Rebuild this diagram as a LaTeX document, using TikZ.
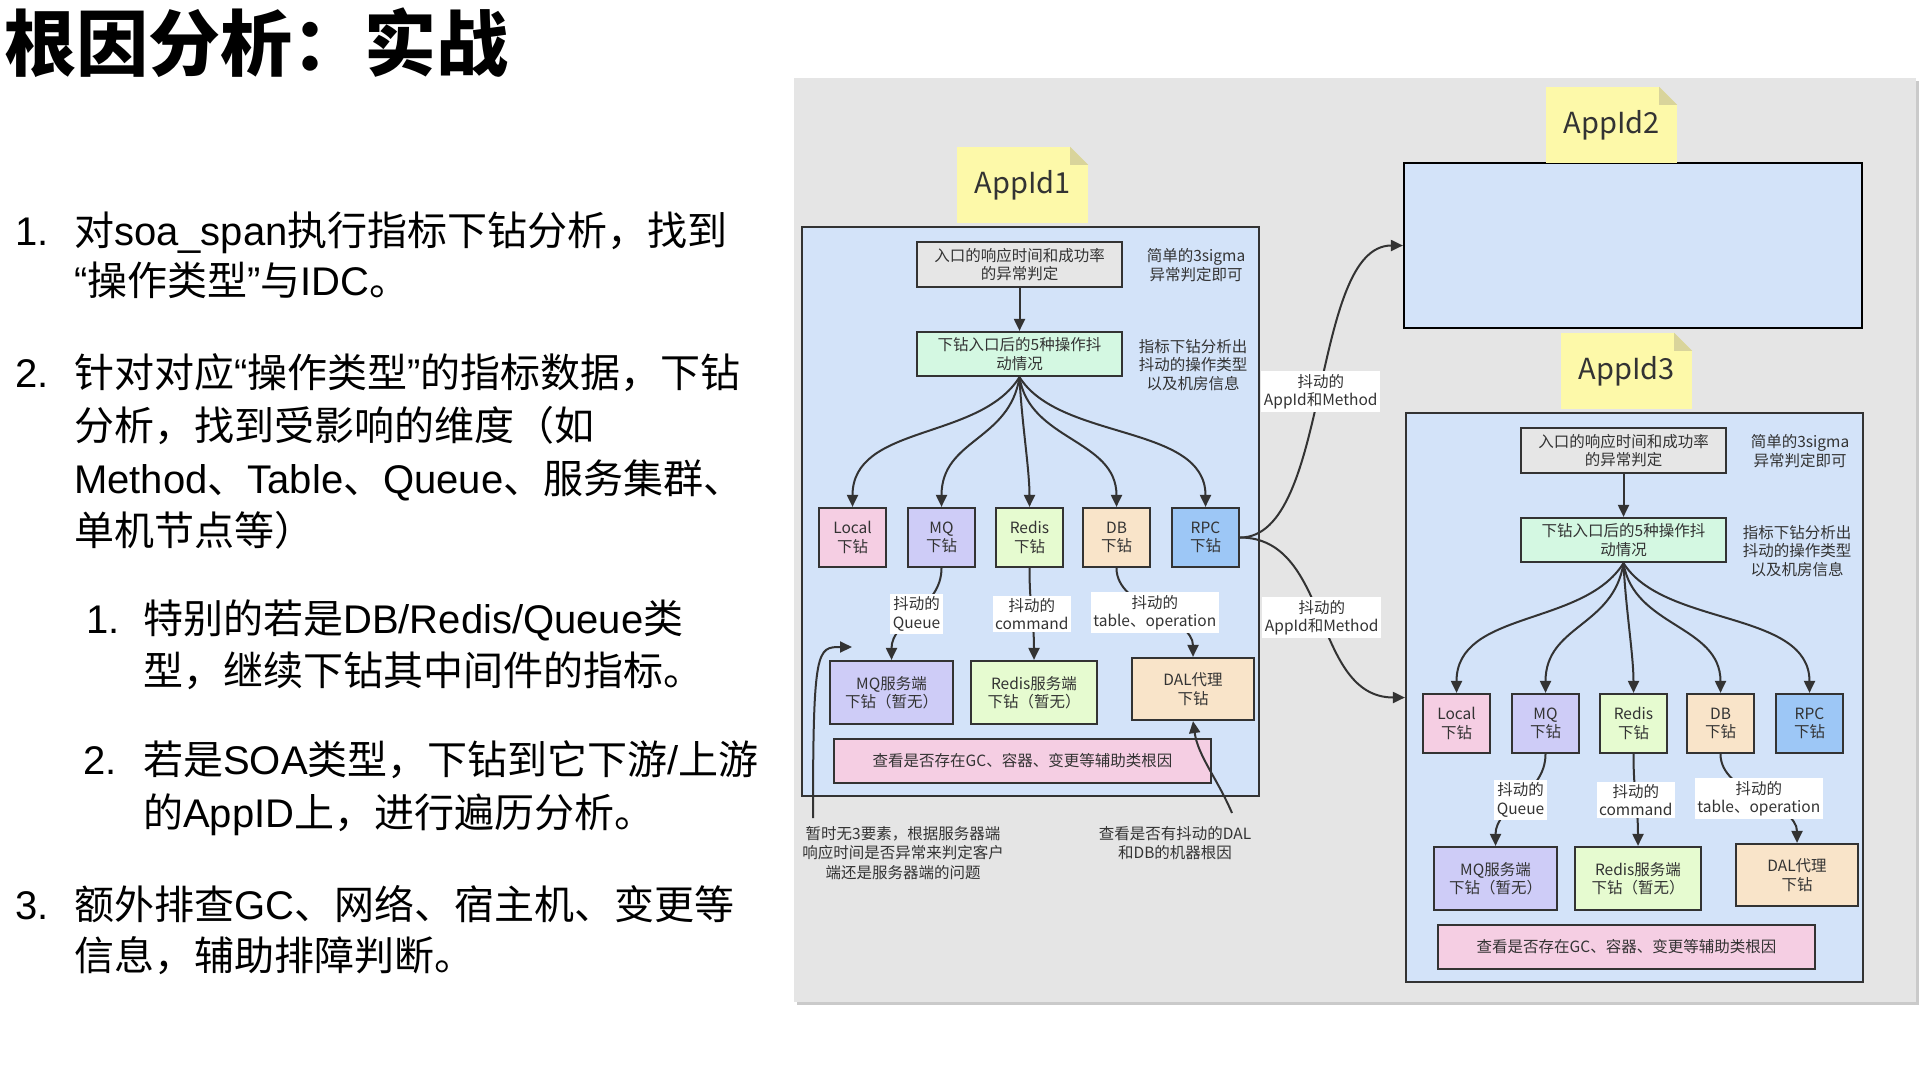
\documentclass[tikz,border=0pt]{standalone}
\usepackage{fontspec}
\setmainfont{Noto Sans CJK SC}
\newfontfamily\latf{Liberation Sans}
\newcommand\EN[1]{{\latf #1}}
\usetikzlibrary{arrows.meta}
\definecolor{panelg}{HTML}{E5E5E5}
\definecolor{shadowg}{HTML}{CACACA}
\definecolor{cblue}{HTML}{D3E3F9}
\definecolor{edgec}{HTML}{333333}
\definecolor{txt}{HTML}{333333}
\definecolor{noteY}{HTML}{FDF9A9}
\definecolor{foldY}{HTML}{D9D49B}
\definecolor{grayB}{HTML}{E6E6E6}
\definecolor{mint}{HTML}{D4F8E2}
\definecolor{pinkB}{HTML}{F5CEE3}
\definecolor{lavB}{HTML}{CECCF7}
\definecolor{lgreen}{HTML}{E6FBD0}
\definecolor{peach}{HTML}{F9E4C9}
\definecolor{rpcB}{HTML}{9DC7F6}
\tikzset{
  dtext/.style={font=\fontsize{15.5}{18.5}\selectfont, text=txt, align=center},
  container/.style={draw=edgec, line width=2.2pt, fill=cblue, inner sep=0pt},
  abox/.style={dtext, draw=edgec, line width=2.2pt, inner sep=0pt},
  lbl/.style={dtext, fill=white, inner sep=2.5pt},
  arr/.style={draw=edgec, line width=2pt, -{Triangle[length=12pt,width=11pt]}},
  stickynote/.style={fill=noteY, minimum width=131pt, minimum height=76pt, font=\fontsize{29}{34}\selectfont, text=txt, inner sep=0pt},
  li/.style={font=\fontsize{40}{52}\selectfont, text=black, anchor=base west, inner sep=0pt},
}
\newcommand\foldnote[1]{%
  \fill[panelg] (#1.north east) -- ++(-18,0) -- ++(18,18) -- cycle;
  \fill[foldY] (#1.north east) ++(-18,0) -- ++(0,18) -- ++(18,0) -- cycle;
}
\newcommand\appcontent[3]{%
\begin{scope}[shift={#2}]
  \node[container, minimum width=457pt, minimum height=569pt] (#1box) at (1030.5,511.5) {};
  \node[stickynote] (#1note) at (1022.5,185) {#3};
  \foldnote{#1note}
  \node[abox, fill=grayB, minimum width=205pt, minimum height=45pt] (#1g) at (1019.5,264.5) {入口的响应时间和成功率\\的异常判定};
  \node[dtext] (#1sa) at (1196,265) {简单的3sigma\\异常判定即可};
  \node[abox, fill=mint, minimum width=205pt, minimum height=44pt] (#1m) at (1019.5,354) {下钻入口后的5种操作抖\\动情况};
  \node[dtext] (#1sb) at (1193,365) {指标下钻分析出\\抖动的操作类型\\以及机房信息};
  \node[abox, fill=pinkB, minimum width=67pt, minimum height=59pt] (#1local) at (852.5,537.5) {Local\\下钻};
  \node[abox, fill=lavB, minimum width=67pt, minimum height=59pt] (#1mq) at (941.5,537.5) {MQ\\下钻};
  \node[abox, fill=lgreen, minimum width=67pt, minimum height=59pt] (#1redis) at (1029.5,537.5) {Redis\\下钻};
  \node[abox, fill=peach, minimum width=67pt, minimum height=59pt] (#1db) at (1116.5,537.5) {DB\\下钻};
  \node[abox, fill=rpcB, minimum width=67pt, minimum height=59pt] (#1rpc) at (1205.5,537.5) {RPC\\下钻};
  \node[abox, fill=lavB, minimum width=123pt, minimum height=63pt] (#1mqs) at (891.5,692.5) {MQ服务端\\下钻（暂无）};
  \node[abox, fill=lgreen, minimum width=126pt, minimum height=63pt] (#1rds) at (1034,692.5) {Redis服务端\\下钻（暂无）};
  \node[abox, fill=peach, minimum width=122pt, minimum height=62pt] (#1dal) at (1193,689) {DAL代理\\下钻};
  \node[abox, fill=pinkB, minimum width=377pt, minimum height=44pt] (#1pk) at (1022.5,761) {查看是否存在GC、容器、变更等辅助类根因};
  \draw[arr] (#1g) -- (#1m);
  \draw[arr] (#1m.south) .. controls +(-40,64) and +(0,-83) .. (#1local.north);
  \draw[arr] (#1m.south) .. controls +(-10,64) and +(0,-68) .. (#1mq.north);
  \draw[arr] (#1m.south) .. controls +(2,44) and +(0,-38) .. (#1redis.north);
  \draw[arr] (#1m.south) .. controls +(10,64) and +(0,-68) .. (#1db.north);
  \draw[arr] (#1m.south) .. controls +(40,64) and +(0,-83) .. (#1rpc.north);
  \draw[arr] (#1mq.south) .. controls +(0,40) and +(0,-40) .. node[lbl] {抖动的\\Queue} (#1mqs.north);
  \draw[arr] (#1redis.south) .. controls +(0,40) and +(0,-40) .. node[lbl] {抖动的\\command} (#1rds.north);
  \draw[arr] (#1db.south) .. controls +(0,40) and +(0,-40) .. node[lbl] {抖动的\\table、operation} (#1dal.north);
\end{scope}}
\begin{document}
\begin{tikzpicture}[x=1pt,y=-1pt]
\useasboundingbox (0,0) rectangle (1920,1080);
\fill[white] (0,0) rectangle (1920,1080);
% left text
\node[font=\fontsize{72}{80}\selectfont\bfseries, anchor=base west, inner sep=0pt, text=black] (title) at (4,70) {根因分析：实战};
\node[li] (n1) at (15,245) {\EN{1.}};
\node[li] (t1a) at (74,245) {对\EN{soa\_span}执行指标下钻分析，找到};
\node[li] (t1b) at (74,295) {\EN{“}操作类型\EN{”}与\EN{IDC}。};
\node[li] (n2) at (15,387) {\EN{2.}};
\node[li] (t2a) at (74,387) {针对对应\EN{“}操作类型\EN{”}的指标数据，下钻};
\node[li] (t2b) at (74,440) {分析，找到受影响的维度（如};
\node[li] (t2c) at (74,493) {\EN{Method}、\EN{Table}、\EN{Queue}、服务集群、};
\node[li] (t2d) at (74,545) {单机节点等）};
\node[li] (n21) at (86,633) {\EN{1.}};
\node[li] (t21a) at (143,633) {特别的若是\EN{DB/Redis/Queue}类};
\node[li] (t21b) at (143,685) {型，继续下钻其中间件的指标。};
\node[li] (n22) at (83,774) {\EN{2.}};
\node[li] (t22a) at (143,774) {若是\EN{SOA}类型，下钻到它下游\EN{/}上游};
\node[li] (t22b) at (143,827) {的\EN{AppID}上，进行遍历分析。};
\node[li] (n3) at (15,919) {\EN{3.}};
\node[li] (t3a) at (74,919) {额外排查\EN{GC}、网络、宿主机、变更等};
\node[li] (t3b) at (74,970) {信息，辅助排障判断。};
% panel
\fill[shadowg] (797,81) rectangle (1919,1005);
\fill[panelg] (794,78) rectangle (1916,1002);
% AppId1 and AppId3
\appcontent{pA}{(0,0)}{AppId1}
\appcontent{pC}{(604,186)}{AppId3}
% AppId2
\node[container, draw=black, minimum width=458pt, minimum height=165pt] (b2) at (1633,245.5) {};
\node[stickynote] (b2note) at (1611.5,125) {AppId2};
\foldnote{b2note}
% RPC to other apps
\draw[arr] (pArpc.east) .. controls +(91,0) and +(-93,0) .. node[lbl] {抖动的\\AppId和Method} (b2.west);
\draw[arr] (pArpc.east) .. controls +(91,0) and +(-93,0) .. node[lbl] {抖动的\\AppId和Method} (pCbox.west);
% annotations
\node[dtext, font=\fontsize{15.5}{19.5}\selectfont] (ann1) at (903,853) {暂时无3要素，根据服务器端\\响应时间是否异常来判定客户\\端还是服务器端的问题};
\node[dtext, font=\fontsize{15.5}{19.5}\selectfont] (ann2) at (1175,843) {查看是否有抖动的DAL\\和DB的机器根因};
\coordinate (ann1s) at (813,818);
\coordinate (ann1e) at (852,647);
\draw[arr] (ann1s) .. controls +(0,-170) and +(-35,0) .. (ann1e);
\coordinate (ann2s) at (1232,813);
\draw[arr] (ann2s) .. controls +(-15,-35) and +(5,35) .. (pAdal.south);
\end{tikzpicture}
\end{document}
